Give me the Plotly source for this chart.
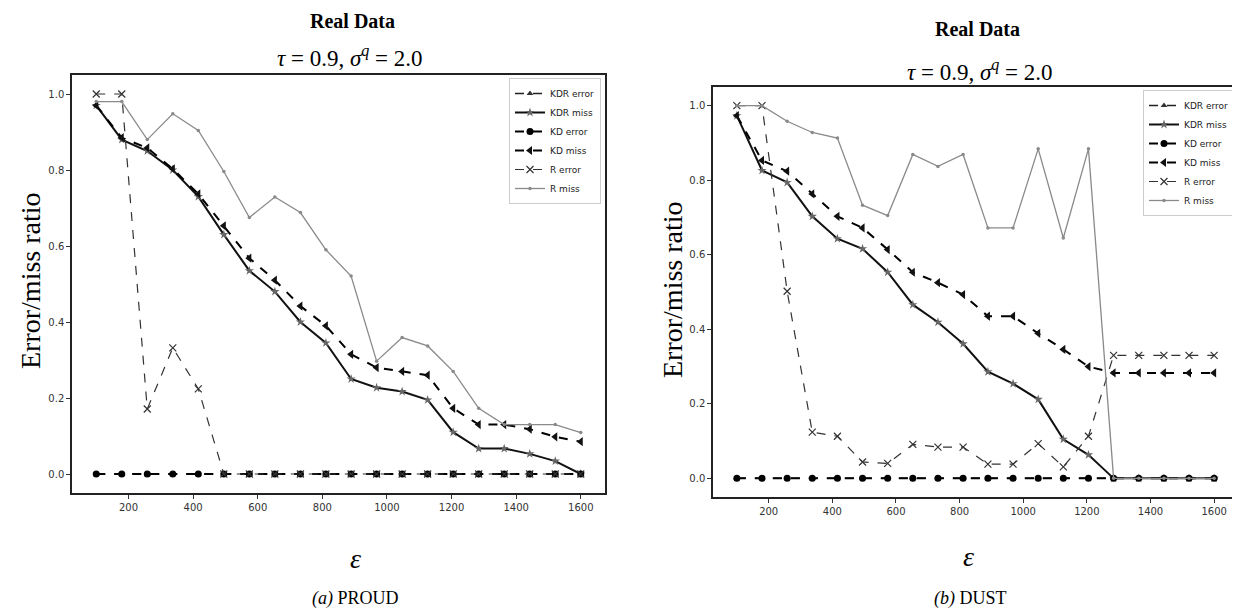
import plotly.graph_objects as go

# page body adds an 8px margin; compensate so the figure fills the 1240x615 window
OFF = 8
W, H = 1240 - OFF, 615 - OFF

eps = [100, 179, 258, 337, 416, 495, 574, 653, 732, 811, 889, 968, 1047, 1126, 1205, 1284, 1363, 1442, 1521, 1600]

# (a) PROUD
proud_kdr_error = [0.0] * 20
proud_kdr_miss = [0.97, 0.88, 0.85, 0.80, 0.73, 0.63, 0.535, 0.48, 0.40, 0.345, 0.25, 0.227, 0.217, 0.195, 0.11, 0.067, 0.067, 0.053, 0.034, 0.0]
proud_kd_error = [0.0] * 20
proud_kd_miss = [0.97, 0.885, 0.858, 0.803, 0.737, 0.653, 0.568, 0.51, 0.442, 0.39, 0.315, 0.28, 0.27, 0.26, 0.173, 0.13, 0.13, 0.118, 0.098, 0.085]
proud_r_error = [1.0, 1.0, 0.171, 0.332, 0.224, 0.0, 0.0, 0.0, 0.0, 0.0, 0.0, 0.0, 0.0, 0.0, 0.0, 0.0, 0.0, 0.0, 0.0, 0.0]
proud_r_miss = [0.98, 0.98, 0.88, 0.948, 0.904, 0.796, 0.675, 0.729, 0.688, 0.59, 0.521, 0.297, 0.359, 0.337, 0.27, 0.173, 0.13, 0.13, 0.13, 0.109]

# (b) DUST
dust_kdr_error = [0.0] * 20
dust_kdr_miss = [0.973, 0.826, 0.794, 0.703, 0.643, 0.616, 0.553, 0.466, 0.419, 0.361, 0.286, 0.254, 0.212, 0.105, 0.063, 0.0, 0.0, 0.0, 0.0, 0.0]
dust_kd_error = [0.0] * 20
dust_kd_miss = [0.973, 0.853, 0.824, 0.763, 0.703, 0.672, 0.614, 0.553, 0.525, 0.493, 0.435, 0.435, 0.389, 0.346, 0.300, 0.283, 0.283, 0.283, 0.283, 0.283]
dust_r_error = [1.0, 1.0, 0.502, 0.124, 0.113, 0.044, 0.040, 0.091, 0.084, 0.084, 0.038, 0.038, 0.093, 0.031, 0.113, 0.330, 0.330, 0.330, 0.330, 0.330]
dust_r_miss = [1.0, 1.0, 0.958, 0.928, 0.913, 0.733, 0.705, 0.869, 0.837, 0.869, 0.672, 0.672, 0.884, 0.645, 0.884, 0.0, 0.0, 0.0, 0.0, 0.0]

x_ticks = [200, 400, 600, 800, 1000, 1200, 1400, 1600]
y_ticks = [0.0, 0.2, 0.4, 0.6, 0.8, 1.0]

series_names = ["KDR error", "KDR miss", "KD error", "KD miss", "R error", "R miss"]

styles = [
    dict(line=dict(color="#222", width=1.5, dash="dash"), marker=dict(symbol="triangle-up", size=6, color="#333")),
    dict(line=dict(color="#111", width=2), marker=dict(symbol="star", size=7, color="#666")),
    dict(line=dict(color="#000", width=2, dash="dash"), marker=dict(symbol="circle", size=7, color="#000")),
    dict(line=dict(color="#000", width=2, dash="dash"), marker=dict(symbol="triangle-left", size=8, color="#111")),
    dict(line=dict(color="#333", width=1.2, dash="dash"), marker=dict(symbol="x-thin-open", size=7, color="#333", line=dict(width=1.2, color="#333"))),
    dict(line=dict(color="#8a8a8a", width=1.3), marker=dict(symbol="circle", size=3.5, color="#8a8a8a")),
]

fig = go.Figure()

panels = [
    ("x", "y", "legend", [proud_kdr_error, proud_kdr_miss, proud_kd_error, proud_kd_miss, proud_r_error, proud_r_miss]),
    ("x2", "y2", "legend2", [dust_kdr_error, dust_kdr_miss, dust_kd_error, dust_kd_miss, dust_r_error, dust_r_miss]),
]
for xa, ya, lg, data in panels:
    for name, vals, st in zip(series_names, data, styles):
        fig.add_trace(go.Scatter(x=eps, y=vals, name=name, mode="lines+markers",
                                 xaxis=xa, yaxis=ya, legend=lg, **st))

def px_x(p):
    return (p - OFF) / W

def px_y(p):
    return 1 - (p - OFF) / H

axis_common = dict(showline=True, linecolor="#222", linewidth=1.5, mirror=True,
                   ticks="outside", ticklen=4, tickcolor="#333", showgrid=False, zeroline=False,
                   tickfont=dict(family="DejaVu Sans", size=10, color="#333"))

legend_common = dict(xanchor="right", yanchor="top", bgcolor="white",
                     bordercolor="#ccc", borderwidth=1,
                     font=dict(family="DejaVu Sans", size=9, color="#222"),
                     tracegroupgap=0, itemwidth=30)

fig.update_layout(
    width=W, height=H, margin=dict(l=0, r=0, t=0, b=0),
    paper_bgcolor="white", plot_bgcolor="white",
    xaxis=dict(domain=[px_x(72), px_x(605)], range=[25, 1675], tickvals=x_ticks, anchor="y", **axis_common),
    yaxis=dict(domain=[px_y(493), px_y(75)], range=[-0.05, 1.05], tickvals=y_ticks, tickformat=".1f", anchor="x", **axis_common),
    xaxis2=dict(domain=[px_x(713), px_x(1238)], range=[25, 1675], tickvals=x_ticks, anchor="y2", **axis_common),
    yaxis2=dict(domain=[px_y(497), px_y(87)], range=[-0.05, 1.05], tickvals=y_ticks, tickformat=".1f", anchor="x2", **axis_common),
    legend=dict(x=px_x(601), y=px_y(78), **legend_common),
    legend2=dict(x=px_x(1235), y=px_y(90), **legend_common),
)

serif = "Liberation Serif"
ann = []
def add(text, x, y, size, **kw):
    ann.append(dict(text=text, x=px_x(x), y=px_y(y), xref="paper", yref="paper", showarrow=False,
                    font=dict(family=serif, size=size, color="#000"), xanchor="center", yanchor="middle", **kw))

math_title = "<i>τ</i> = 0.9, <i>σ</i><sup><i>q</i></sup> = 2.0"
add("<b>Real Data</b>", 352, 21, 20)
add(math_title, 350, 57, 23)
add("<b>Real Data</b>", 977, 29, 20)
add(math_title, 980, 70, 23)
add("Error/miss ratio", 30, 281, 28, textangle=-90)
add("Error/miss ratio", 672, 290, 28, textangle=-90)
add("<i>ε</i>", 355, 558, 28)
add("<i>ε</i>", 968, 556, 28)
add("<i>(a)</i> PROUD", 355, 598, 18)
add("<i>(b)</i> DUST", 970, 598, 18)
fig.update_layout(annotations=ann)

fig.write_html("out.html")
